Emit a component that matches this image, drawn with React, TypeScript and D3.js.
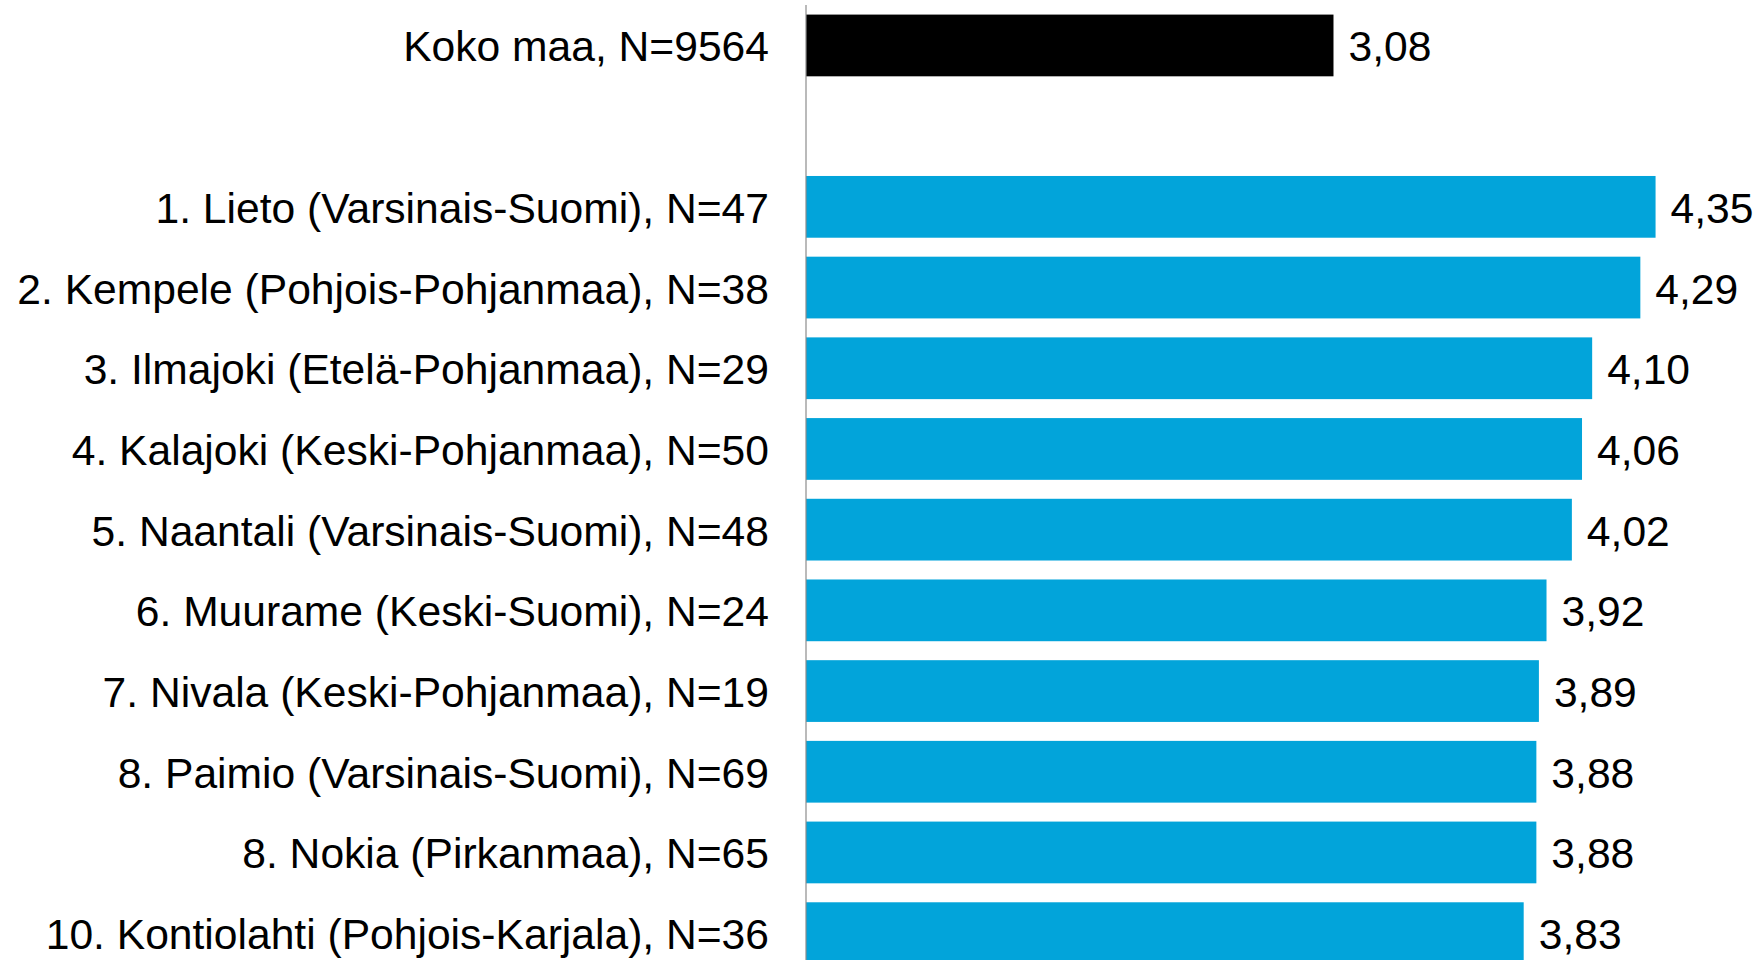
import React from 'react';
import { scaleBand, scaleLinear, format } from 'd3';

const width = 1757;
const height = 960;

const totalLabel = 'Koko maa, N=9564';
const totalValue = 3.08;

const municipalities = [
  '1. Lieto (Varsinais-Suomi), N=47',
  '2. Kempele (Pohjois-Pohjanmaa), N=38',
  '3. Ilmajoki (Etelä-Pohjanmaa), N=29',
  '4. Kalajoki (Keski-Pohjanmaa), N=50',
  '5. Naantali (Varsinais-Suomi), N=48',
  '6. Muurame (Keski-Suomi), N=24',
  '7. Nivala (Keski-Pohjanmaa), N=19',
  '8. Paimio (Varsinais-Suomi), N=69',
  '8. Nokia (Pirkanmaa), N=65',
  '10. Kontiolahti (Pohjois-Karjala), N=36',
];
const values = [4.35, 4.29, 4.1, 4.06, 4.02, 3.92, 3.89, 3.88, 3.88, 3.83];

const axisX = 806;
const unit = 253.6;
const step = 80.7;
const top = 5.1;
const pad = 0.235;

const fmt = (v: number) => format('.2f')(v).replace('.', ',');

const App = () => {
  // slot 0 = koko maa, slot 1 = empty gap, then the municipalities
  const slots = ['__total', '__gap', ...municipalities];
  const rows = [
    { label: totalLabel, value: totalValue, color: '#000000' },
    ...municipalities.map((m, i) => ({ label: m, value: values[i], color: '#02A4DA' })),
  ];
  const x = scaleLinear().domain([1, 5]).range([axisX, axisX + 4 * unit]);
  const y = scaleBand<string>()
    .domain(slots)
    .range([top, top + slots.length * step])
    .paddingInner(pad)
    .paddingOuter(pad / 2);
  const key = (i: number) => (i === 0 ? '__total' : municipalities[i - 1]);

  return (
    <svg
      width={width}
      height={height}
      style={{ position: 'absolute', left: 0, top: 0, background: '#fff' }}
      fontFamily="'Liberation Sans', Arial, sans-serif"
      fontSize={42.6}
    >
      {rows.map((d, i) => {
        const y0 = y(key(i)) as number;
        const cy = y0 + y.bandwidth() / 2;
        return (
          <g key={i}>
            <rect x={x(1)} y={y0} width={x(d.value) - x(1)} height={y.bandwidth()} fill={d.color} />
            <text x={axisX - 37} y={cy + 16} textAnchor="end" fill="#000">
              {d.label}
            </text>
            <text x={x(d.value) + 15} y={cy + 16} fill="#000">
              {fmt(d.value)}
            </text>
          </g>
        );
      })}
      <line x1={axisX} x2={axisX} y1={top} y2={top + slots.length * step} stroke="#8c8c8c" strokeWidth={1.2} />
    </svg>
  );
};

export default App;
